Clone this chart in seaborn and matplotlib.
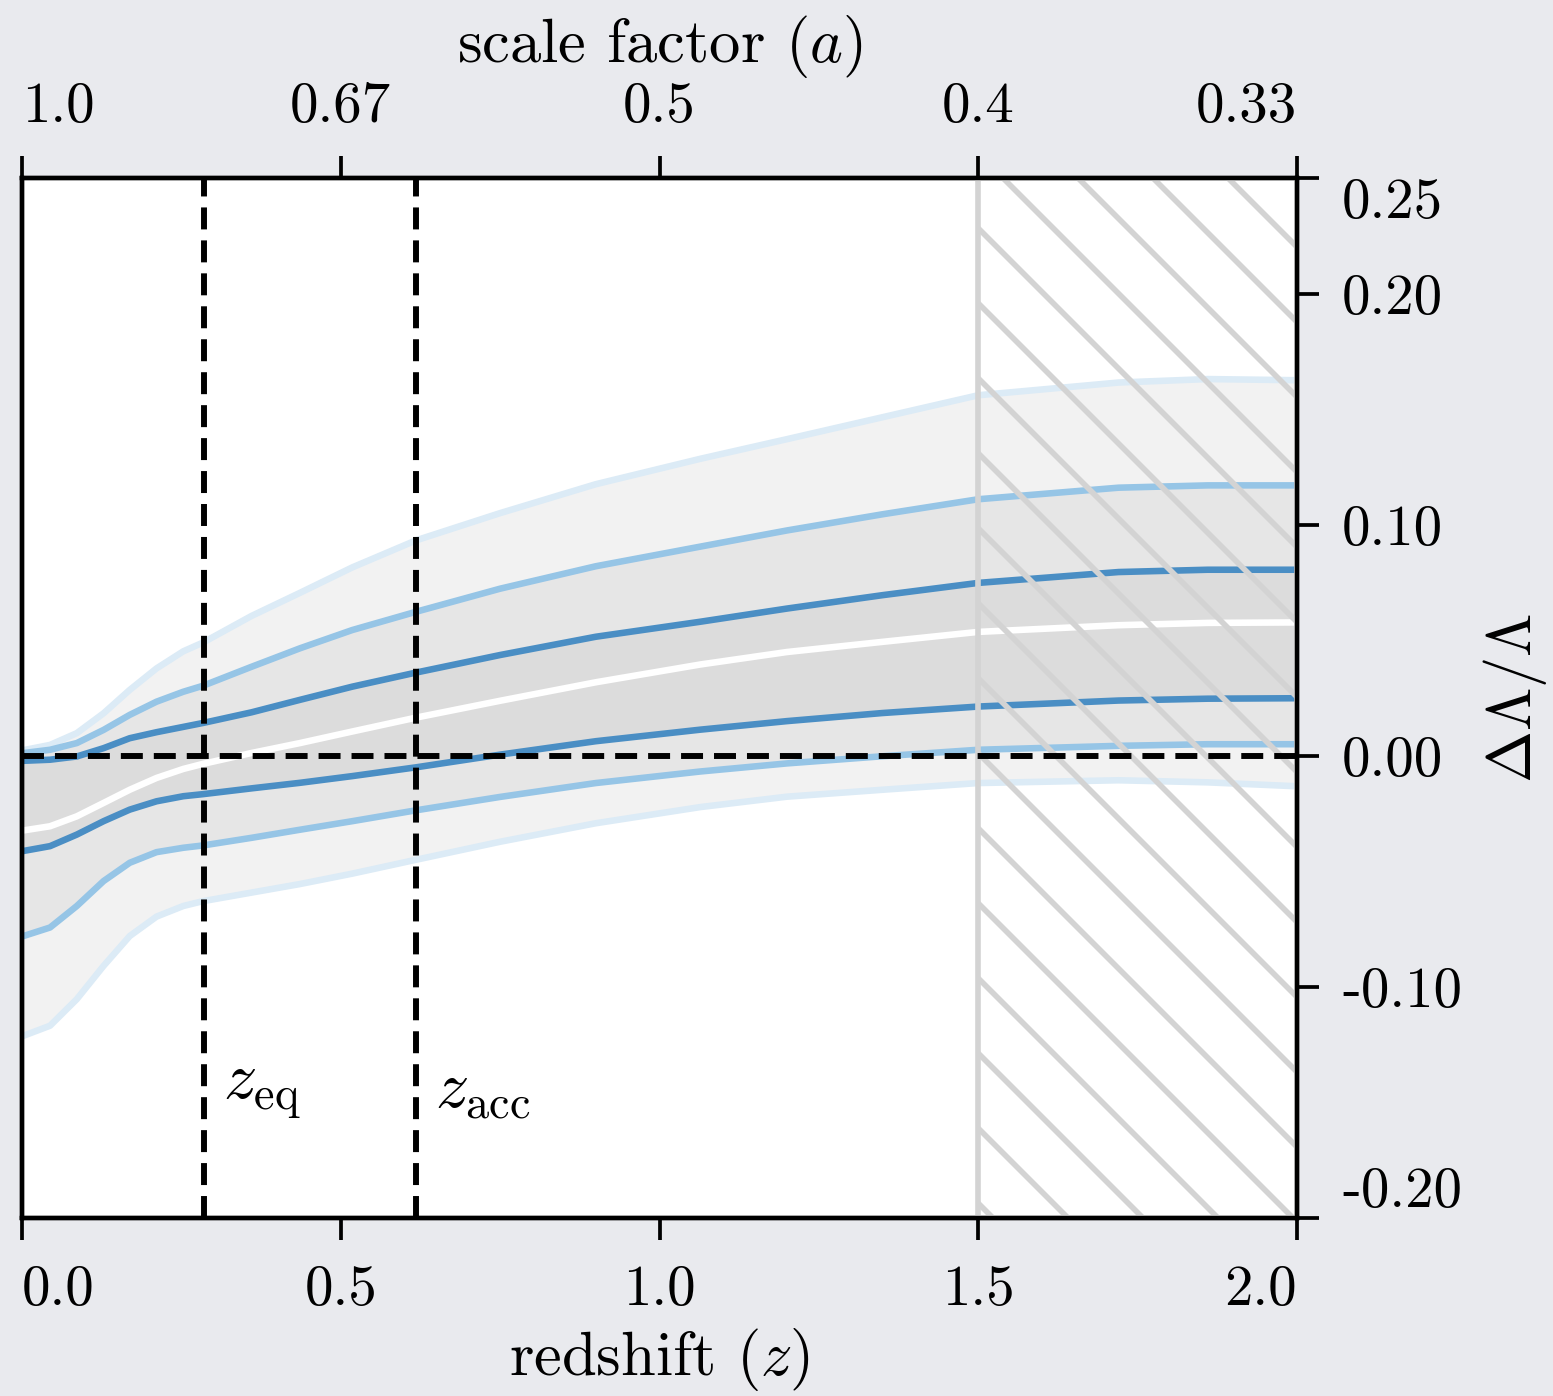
import numpy as np
import pandas as pd
import matplotlib
matplotlib.use("Agg")
import matplotlib.pyplot as plt
import seaborn as sns

# ---------------- data ----------------
z = [0.0, 0.044, 0.086, 0.128, 0.169, 0.211, 0.253, 0.284, 0.36, 0.436, 0.518, 0.618,
     0.75, 0.9, 1.064, 1.2, 1.35, 1.5, 1.72, 1.86, 2.0]

outer_hi = [0.0023, 0.0047, 0.0098, 0.0184, 0.0285, 0.0378, 0.0452, 0.049, 0.0605, 0.0705,
            0.0815, 0.0932, 0.105, 0.1175, 0.1285, 0.137, 0.1465, 0.156, 0.1615, 0.163, 0.1625]
mid_hi = [0.0011, 0.0026, 0.0055, 0.0112, 0.0177, 0.0234, 0.0277, 0.0303, 0.0385, 0.0465,
          0.0544, 0.0623, 0.0723, 0.0820, 0.0905, 0.0975, 0.1045, 0.111, 0.116, 0.117, 0.117]
inner_hi = [-0.0022, -0.0017, -0.0003, 0.0033, 0.0076, 0.0102, 0.0125, 0.0142, 0.0188, 0.0242,
            0.0299, 0.036, 0.0436, 0.0515, 0.058, 0.0637, 0.0695, 0.0748, 0.0795, 0.0805, 0.0805]
median = [-0.0324, -0.0305, -0.0262, -0.0204, -0.0147, -0.0096, -0.0057, -0.0035, 0.0012, 0.0055,
          0.0105, 0.0165, 0.0238, 0.0318, 0.0395, 0.0449, 0.0493, 0.0536, 0.0565, 0.0575, 0.0577]
inner_lo = [-0.0413, -0.0391, -0.0341, -0.0283, -0.0233, -0.0197, -0.0175, -0.0166, -0.0141, -0.0117,
            -0.0088, -0.0050, 0.0005, 0.0063, 0.0113, 0.0150, 0.0185, 0.0213, 0.0239, 0.0247, 0.0249]
mid_lo = [-0.0782, -0.0743, -0.065, -0.0542, -0.0463, -0.0417, -0.0398, -0.0388, -0.0355, -0.032,
          -0.0283, -0.0236, -0.0178, -0.0118, -0.0068, -0.0033, -0.0002, 0.0026, 0.0043, 0.005, 0.005]
outer_lo = [-0.1214, -0.1168, -0.1053, -0.0909, -0.078, -0.0696, -0.065, -0.0629, -0.0592, -0.0555,
            -0.0510, -0.0450, -0.0372, -0.0292, -0.0222, -0.0177, -0.0147, -0.0118, -0.0106, -0.0115, -0.0132]

z_eq = 0.285
z_acc = 0.618
z_survey = 1.5

x_ticks = [0.0, 0.5, 1.0, 1.5, 2.0]
x_ticklabels = ["0.0", "0.5", "1.0", "1.5", "2.0"]
a_ticklabels = ["1.0", "0.67", "0.5", "0.4", "0.33"]
y_ticks = [-0.20, -0.10, 0.00, 0.10, 0.20, 0.25]
y_ticklabels = ["-0.20", "-0.10", "0.00", "0.10", "0.20", "0.25"]

# ---------------- style ----------------
sns.set_theme(style="ticks")
plt.rcParams.update({
    "font.family": "serif",
    "font.serif": ["cmr10"],
    "mathtext.fontset": "cm",
    "axes.unicode_minus": False,
    "axes.formatter.use_mathtext": True,
    "font.size": 9.1,
    "axes.labelsize": 10,
    "xtick.labelsize": 9.1,
    "ytick.labelsize": 9.1,
    "hatch.linewidth": 0.9,
    "axes.linewidth": 0.7,
    "axes.edgecolor": "black",
    "text.color": "black",
    "axes.labelcolor": "black",
    "xtick.color": "black",
    "ytick.color": "black",
})

DPI = 450
W, H = 1553, 1396
fig = plt.figure(figsize=(W / DPI, H / DPI), dpi=DPI, facecolor="#e9eaee")
L, R, T, B = 22, 1297, 178, 1218
ax = fig.add_axes([L / W, 1 - B / H, (R - L) / W, (B - T) / H])
ax.set_facecolor("white")

c_outer = "#dcebf6"
c_mid = "#96c5e6"
c_inner = "#4a8ec4"

ax.fill_between(z, outer_lo, outer_hi, color="#f2f2f2", lw=0, zorder=1)
ax.fill_between(z, mid_lo, mid_hi, color="#e6e6e6", lw=0, zorder=1.1)
ax.fill_between(z, inner_lo, inner_hi, color="#dcdcdc", lw=0, zorder=1.2)

df = pd.DataFrame({"z": z, "outer_hi": outer_hi, "outer_lo": outer_lo,
                   "mid_hi": mid_hi, "mid_lo": mid_lo,
                   "inner_hi": inner_hi, "inner_lo": inner_lo, "median": median})
for col, c in [("outer_hi", c_outer), ("outer_lo", c_outer),
               ("mid_hi", c_mid), ("mid_lo", c_mid),
               ("inner_hi", c_inner), ("inner_lo", c_inner),
               ("median", "white")]:
    sns.lineplot(data=df, x="z", y=col, color=c, lw=1.05, ax=ax, zorder=2,
                 estimator=None, sort=False)

# hatched region
ax.axvspan(z_survey, 2.0, facecolor="none", edgecolor="#d3d3d3", hatch="\\\\",
           lw=0.9, zorder=3)

# reference lines
dash = (3.7, 1.85)
ax.axhline(0.0, color="black", lw=0.95, dashes=dash, zorder=4)
ax.axvline(z_eq, color="black", lw=0.95, dashes=dash, zorder=4)
ax.axvline(z_acc, color="black", lw=0.95, dashes=dash, zorder=4)
ax.text(z_eq + 0.03, -0.145, r"$z_{\rm eq}$", ha="left", va="center", fontsize=10.6, zorder=5)
ax.text(z_acc + 0.03, -0.145, r"$z_{\rm acc}$", ha="left", va="center", fontsize=10.6, zorder=5)

ax.set_xlim(0, 2.0)
ax.set_ylim(-0.20, 0.25)

# bottom axis
ax.set_xticks(x_ticks)
ax.set_xticklabels(x_ticklabels)
ax.set_xlabel(r"redshift ($z$)", labelpad=1.6)
ax.tick_params(axis="x", bottom=True, top=False, direction="out", length=3.5,
               width=0.6, pad=4)

# right axis
ax.yaxis.tick_right()
ax.yaxis.set_label_position("right")
ax.set_yticks(y_ticks)
ax.set_yticklabels(y_ticklabels)
ax.tick_params(axis="y", left=False, right=True, labelleft=False, labelright=True,
               direction="out", length=3.5, width=0.6, pad=3.7)
ax.set_ylabel(r"$\Delta\Lambda/\Lambda$", rotation=90, labelpad=3)

for s in ax.spines.values():
    s.set_linewidth(0.7)
    s.set_color("black")

# top axis (scale factor)
ax2 = ax.twiny()
ax2.set_xlim(ax.get_xlim())
ax2.set_xticks(x_ticks)
ax2.set_xticklabels(a_ticklabels)
ax2.set_xlabel(r"scale factor ($a$)", labelpad=3.2)
ax2.tick_params(axis="x", top=True, bottom=False, labeltop=True, labelbottom=False,
                direction="out", length=3.5, width=0.6, pad=3.7)
for s in ax2.spines.values():
    s.set_linewidth(0.7)
    s.set_color("black")

# nudge end labels inward
xt = ax.xaxis.get_major_ticks()
xt[0].label1.set_horizontalalignment("left")
xt[-1].label1.set_horizontalalignment("right")
at = ax2.xaxis.get_major_ticks()
at[0].label2.set_horizontalalignment("left")
at[-1].label2.set_horizontalalignment("right")
yt = ax.yaxis.get_major_ticks()
yt[0].label2.set_verticalalignment("bottom")
yt[-1].label2.set_verticalalignment("top")

fig.savefig("out.png", dpi=DPI, facecolor=fig.get_facecolor())
